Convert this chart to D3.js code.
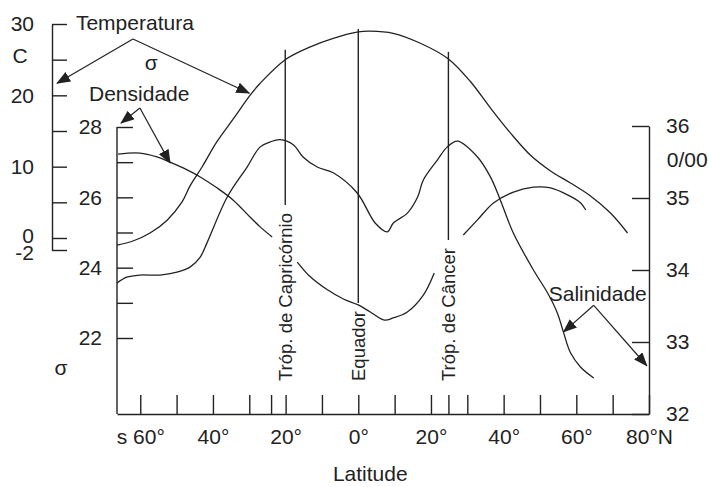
<!DOCTYPE html>
<html>
<head>
<meta charset="utf-8">
<script src="https://cdn.jsdelivr.net/npm/d3@7"></script>
<style>
  body { margin: 0; background: #fff; }
  svg text { font-family: "Liberation Sans", Arial, Helvetica, sans-serif; fill: #222; }
</style>
</head>
<body>
<svg id="chart" width="709" height="487"></svg>
<script>
// temperature (°C) by latitude (negative = south)
const tempLat = [-66.4, -62.0, -57.3, -52.6, -48.5, -46.3, -43.0, -38.9, -34.4, -29.8, -27.0, -20.1, -13.2, -6.9, 0, 3.3, 9.6, 17.1, 24.8, 30.9, 36.4, 41.9, 47.4, 52.9, 58.4, 63.9, 69.4, 74.1];
const tempVal = [-1.2, -0.5, 0.7, 2.5, 5.05, 7.3, 9.95, 13.5, 16.7, 20.0, 21.7, 25.0, 26.8, 28.0, 28.9, 29.0, 28.7, 27.3, 25.1, 21.9, 18.2, 14.7, 11.6, 9.4, 7.7, 5.9, 3.5, 0.7];

// density sigma-t, NaN = break in the curve (behind the tropic labels)
const densLat = [-66.1, -60.1, -55.4, -51.8, -47.1, -43.5, -38.9, -34.4, -29.8, -27.0, -23.7, NaN, -16.8, -13.2, -8.5, -4.1, 0, 3.3, 7.2, 9.6, 13.5, 17.9, 20.9, NaN, 28.9, 32.8, 37.2, 42.7, 48.2, 52.9, 57.6, 61.2, 62.6];
const densVal = [27.23, 27.26, 27.15, 27.0, 26.78, 26.58, 26.27, 25.92, 25.44, 25.16, 24.87, NaN, 24.16, 23.74, 23.37, 23.11, 22.94, 22.74, 22.51, 22.57, 22.74, 23.22, 23.85, NaN, 24.93, 25.36, 25.84, 26.15, 26.29, 26.27, 26.07, 25.84, 25.64];

// salinity (0/00)
const salLat = [-66.4, -63.7, -60.1, -54.6, -49.9, -46.3, -43.5, -41.6, -36.1, -30.6, -27.0, -24.2, -21.5, -17.9, -15.2, -11.3, -6.9, -0.3, 4.7, 8.0, 9.6, 13.5, 16.3, 17.9, 21.8, 24.5, 27.3, 32.8, 36.4, 39.1, 42.7, 48.2, 52.1, 54.8, 56.5, 58.4, 61.2, 64.8];
const salVal = [33.82, 33.90, 33.93, 33.93, 33.97, 34.04, 34.18, 34.38, 35.01, 35.43, 35.71, 35.78, 35.81, 35.74, 35.57, 35.43, 35.35, 35.07, 34.65, 34.53, 34.65, 34.79, 35.01, 35.25, 35.53, 35.71, 35.79, 35.57, 35.29, 34.97, 34.51, 34.0, 33.68, 33.40, 33.13, 32.85, 32.65, 32.50];

// reference lines
const tropicNames = ['Tróp. de Capricórnio', 'Equador', 'Tróp. de Câncer'];
const tropicLat = [-20.1, 0, 24.8];
const tropicTop = [26.4, 29.3, 26.1];   // top end, in °C units

// ticks
const latTicks = [-60, -50, -40, -30, -24, -20, -10, 0, 10, 20, 24.8, 30, 40, 50, 60, 70, 80];
const latLabels = [-60, -40, -20, 0, 20, 40, 60, 80];
const tempTicks = [30, 25, 20, 15, 10, 5, 0, -2];
const tempLabels = [30, 20, 10, 0, -2];
const densTicks = [22, 23, 24, 25, 26, 27, 28];
const densLabels = [22, 24, 26, 28];
const salTicks = [32, 33, 34, 35, 36];

const ink = '#222';
const svg = d3.select('#chart');

const x = d3.scaleLinear().domain([-66.4, 80]).range([117, 649]);
const yT = d3.scaleLinear().domain([-2, 0, 30]).range([250, 238, 24]);
const yD = d3.scaleLinear().domain([22, 28]).range([338, 127]);
const yS = d3.scaleLinear().domain([32, 36]).range([414, 126]);
const scales = { T: yT, D: yD, S: yS };
const bottom = yS(32);

svg.append('defs').append('marker')
    .attr('id', 'head')
    .attr('viewBox', '0 0 14 11')
    .attr('refX', 13).attr('refY', 5.5)
    .attr('markerWidth', 14).attr('markerHeight', 11)
    .attr('markerUnits', 'userSpaceOnUse')
    .attr('orient', 'auto')
  .append('path')
    .attr('d', 'M0,0L14,5.5L0,11Z')
    .attr('fill', ink);

function styleAxis(g) {
  g.attr('font-family', null).attr('font-size', 21);
  g.selectAll('path, line').attr('stroke', ink).attr('stroke-width', 1.4);
  g.selectAll('text').attr('fill', ink);
}

// temperature axis (outer left)
const tAx = svg.append('g')
    .attr('transform', 'translate(52,0)')
    .call(d3.axisLeft(yT).tickValues(tempTicks).tickSize(-15).tickSizeOuter(0).tickPadding(18)
      .tickFormat(d => tempLabels.includes(d) ? String(d) : ''))
    .call(styleAxis);
// the 0 and -2 labels sit very close, spread them a little
tAx.selectAll('.tick text').filter(d => d === 0).attr('dy', '0.2em');
tAx.selectAll('.tick text').filter(d => d === -2).attr('dy', '0.45em');

// density axis (inner left)
const dAx = svg.append('g')
    .attr('transform', 'translate(117,0)')
    .call(d3.axisLeft(yD).tickValues(densTicks).tickSize(-16).tickPadding(15)
      .tickFormat(d => densLabels.includes(d) ? String(d) : ''))
    .call(styleAxis);
dAx.select('.domain').remove();
dAx.append('line').attr('y1', yD(28)).attr('y2', bottom)
    .attr('stroke', ink).attr('stroke-width', 1.4);

// salinity axis (right)
svg.append('g')
    .attr('transform', 'translate(649,0)')
    .call(d3.axisRight(yS).tickValues(salTicks).tickSize(-17).tickSizeOuter(0).tickPadding(17)
      .tickFormat(d => String(d)))
    .call(styleAxis);

// latitude axis
svg.append('g')
    .attr('transform', `translate(0,${bottom})`)
    .call(d3.axisBottom(x).tickValues(latTicks).tickSize(-19).tickSizeOuter(0).tickPadding(15)
      .tickFormat(d => {
        if (!latLabels.includes(d)) return '';
        if (d === -60) return 's 60°';
        if (d === 80) return '80°N';
        return Math.abs(d) + '°';
      }))
    .call(styleAxis);

svg.append('text').attr('x', x(3.3)).attr('y', bottom + 67)
    .attr('text-anchor', 'middle').attr('font-size', 21).text('Latitude');

// curves
function drawCurve(lats, vals, ys) {
  const pts = lats.map((l, i) => [l, vals[i]]);
  const line = d3.line()
      .defined(d => !isNaN(d[1]))
      .x(d => x(d[0]))
      .y(d => ys(d[1]))
      .curve(d3.curveCatmullRom.alpha(0.5));
  svg.append('path').datum(pts)
      .attr('d', line)
      .attr('fill', 'none')
      .attr('stroke', ink)
      .attr('stroke-width', 1.3);
}
drawCurve(tempLat, tempVal, yT);
drawCurve(densLat, densVal, yD);
drawCurve(salLat, salVal, yS);

// tropic / equator lines with vertical labels
const labelStart = bottom - 33;
tropicNames.forEach((name, i) => {
  const lx = x(tropicLat[i]);
  const t = svg.append('text')
      .attr('transform', `translate(${lx},${labelStart}) rotate(-90)`)
      .attr('dy', '0.35em')
      .attr('font-size', 18.5)
      .text(name);
  const len = t.node().getComputedTextLength();
  svg.append('line')
      .attr('x1', lx).attr('x2', lx)
      .attr('y1', yT(tropicTop[i])).attr('y2', labelStart - len - 8)
      .attr('stroke', ink).attr('stroke-width', 1.4);
});

// annotations: [lat, value] in the units of the named scale
const notes = [
  { s: 'T', at: [-77.7, 29.2], text: 'Temperatura' },
  { s: 'T', at: [-57.0, 23.6], text: 'σ', anchor: 'middle' },
  { s: 'T', at: [-93.1, 24.5], text: 'C', anchor: 'middle' },
  { s: 'D', at: [-74.1, 28.74], text: 'Densidade' },
  { s: 'D', at: [-81.8, 20.95], text: 'σ', anchor: 'middle' },
  { s: 'S', at: [52.4, 33.57], text: 'Salinidade' },
  { s: 'S', at: [84.9, 35.43], text: '0/00' }
];
notes.forEach(n => {
  svg.append('text')
      .attr('x', x(n.at[0])).attr('y', scales[n.s](n.at[1]))
      .attr('text-anchor', n.anchor || 'start')
      .attr('font-size', 21)
      .text(n.text);
});

const arrows = [
  { s: 'T', from: [-62.0, 27.9], to: [-82.9, 21.7] },
  { s: 'T', from: [-62.0, 27.9], to: [-30.0, 20.3] },
  { s: 'D', from: [-60.1, 28.54], to: [-65.3, 28.11] },
  { s: 'D', from: [-60.1, 28.54], to: [-51.8, 26.98] },
  { s: 'S', from: [64.8, 33.51], to: [56.5, 33.14] },
  { s: 'S', from: [64.8, 33.51], to: [79.4, 32.67] }
];
arrows.forEach(a => {
  const ys = scales[a.s];
  svg.append('line')
      .attr('x1', x(a.from[0])).attr('y1', ys(a.from[1]))
      .attr('x2', x(a.to[0])).attr('y2', ys(a.to[1]))
      .attr('stroke', ink).attr('stroke-width', 1.2)
      .attr('marker-end', 'url(#head)');
});
</script>
</body>
</html>
